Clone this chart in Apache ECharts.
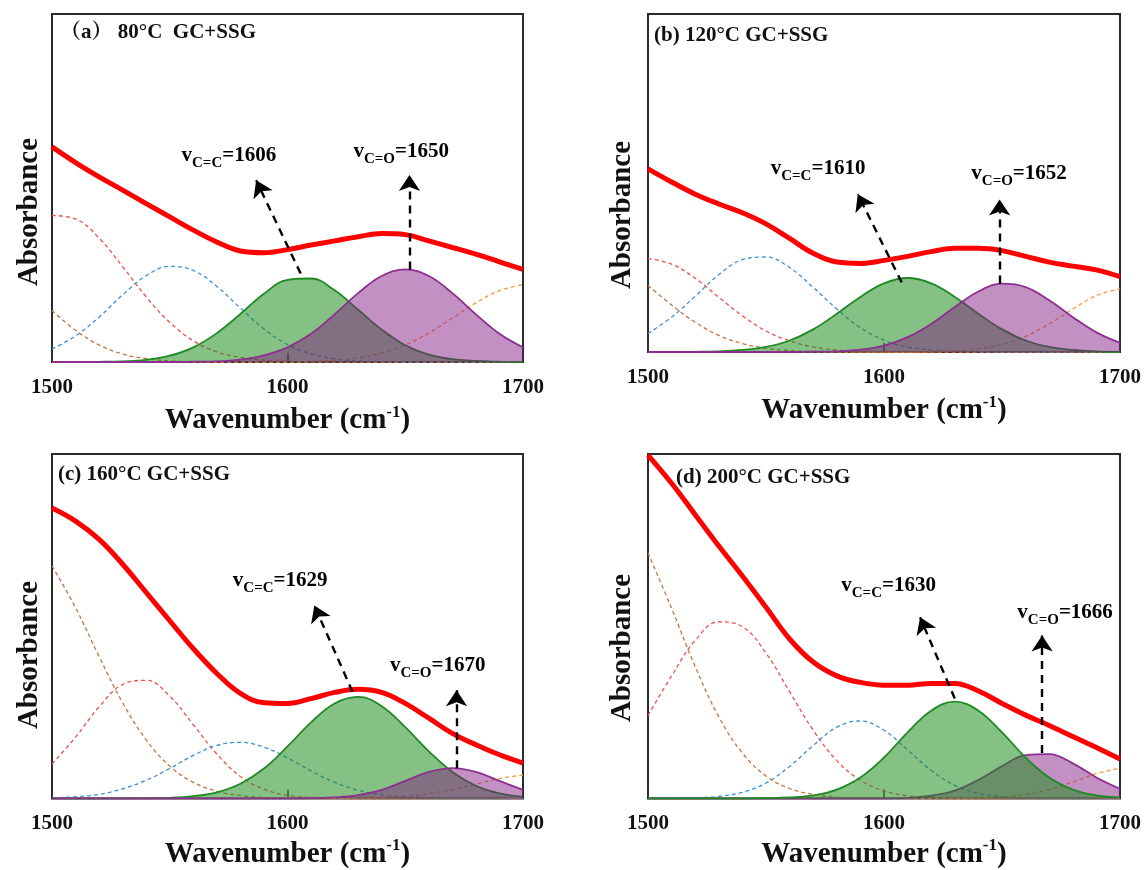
<!DOCTYPE html>
<html>
<head>
<meta charset="utf-8">
<script src="https://cdn.jsdelivr.net/npm/echarts@6/dist/echarts.min.js"></script>
<style>
html,body{margin:0;padding:0;background:#fff;}
#main{width:1145px;height:870px;}
</style>
</head>
<body>
<div id="main"></div>
<script>
// wavenumber grid, cm-1
const wn = [1500,1510,1520,1530,1540,1550,1560,1570,1580,1590,1600,1610,1620,1630,1640,1650,1660,1670,1680,1690,1700];
const xTicks = [1500, 1600, 1700];

// (a) 80°C  — absorbance in % of plot height
const aFit    = [61.8,57.3,53.2,49.4,45.5,41.7,37.9,34.5,31.9,31.4,32.3,33.6,34.8,36.0,36.9,36.6,34.8,32.9,31.0,28.8,26.6];
const aCC     = [0,0,0.05,0.2,0.6,1.8,4.2,8.3,13.8,19.6,23.6,24.0,20.6,15.0,9.3,4.8,2.1,0.8,0.3,0.1,0];
const aCO     = [0,0,0,0,0,0,0.1,0.2,0.7,1.9,4.2,8.1,13.7,19.8,24.7,26.6,24.7,19.8,13.7,8.1,4.2];
const aRed    = [42.1,41.1,35.6,27.4,18.7,11.4,6.1,2.9,1.3,0.5,0.2,0.1,0,0,0,0,0,0,0,0,0];
const aBlue   = [3.7,7.5,12.9,19.3,24.8,27.5,26.3,21.7,15.5,9.5,5.0,2.3,0.9,0.3,0.1,0,0,0,0,0,0];
const aBrown  = [14.8,9.1,4.9,2.3,1.0,0.3,0.1,0,0,0,0,0,0,0,0,0,0,0,0,0,0];
const aOrange = [0,0,0,0,0,0,0,0,0,0,0,0.2,0.5,1.2,2.6,4.9,8.3,12.6,17.0,20.5,22.2];

// (b) 120°C
const bFit    = [54.2,50.3,46.7,43.8,41.2,37.9,33.6,29.2,26.6,26.2,27.1,28.3,29.7,30.7,30.7,30.0,28.3,26.6,25.4,24.3,22.3];
const bCC     = [0,0,0.05,0.2,0.6,1.5,3.4,6.7,11.3,16.3,20.3,21.9,20.3,16.3,11.3,6.7,3.4,1.5,0.6,0.2,0.05];
const bCO     = [0,0,0,0,0,0,0,0.1,0.2,0.7,1.9,4.4,8.3,13.3,17.9,20.2,19.2,15.3,10.3,5.8,2.7];
const bRed    = [27.6,26.0,21.8,16.2,10.7,6.2,3.3,1.5,0.6,0.2,0.1,0,0,0,0,0,0,0,0,0,0];
const bBlue   = [5.5,10.3,16.5,22.9,27.3,28.1,25.0,19.1,12.7,7.2,3.5,1.5,0.6,0.2,0.1,0,0,0,0,0,0];
const bBrown  = [19.7,13.9,8.8,4.9,2.5,1.1,0.4,0.2,0.1,0,0,0,0,0,0,0,0,0,0,0,0];
const bOrange = [0,0,0,0,0,0,0,0,0,0,0,0,0.1,0.3,0.9,2.2,4.6,8.3,12.7,16.7,18.7];

// (c) 160°C
const cFit    = [84.3,80.5,75.2,68.0,59.8,51.6,43.5,36.3,30.5,27.8,27.6,29.0,30.8,31.7,30.8,27.6,23.3,18.9,15.6,12.7,10.3];
const cCC     = [0,0,0,0,0.05,0.2,0.7,1.8,4.3,8.7,15.1,22.1,27.6,29.5,26.8,20.7,13.7,7.7,3.7,1.5,0.5];
const cCO     = [0,0,0,0,0,0,0,0,0,0,0,0.1,0.3,1.0,2.5,5.1,7.7,8.8,7.7,5.1,2.5];
const cRed    = [10.0,17.8,26.6,33.1,34.3,29.7,21.4,12.9,6.4,2.7,0.9,0.3,0.1,0,0,0,0,0,0,0,0];
const cBlue   = [0.2,0.5,1.2,2.8,5.3,8.7,12.5,15.4,16.3,14.9,11.8,8.0,4.7,2.4,1.0,0.4,0.1,0,0,0,0];
const cBrown  = [67.5,55.4,41.2,27.8,17.0,9.4,4.7,2.1,0.9,0.3,0.1,0,0,0,0,0,0,0,0,0,0];
const cOrange = [0,0,0,0,0,0,0,0,0,0,0,0,0,0.1,0.2,0.6,1.4,2.6,4.2,5.8,6.8];

// (d) 200°C
const dFit    = [99.7,91.5,82.4,73.3,64.6,55.5,46.3,39.6,35.6,33.7,32.9,32.9,33.4,33.4,31.2,27.6,24.2,21.2,18.0,14.8,11.5];
const dCC     = [0,0,0,0,0,0.1,0.3,0.9,2.6,6.1,11.9,19.2,25.5,28.1,25.5,19.2,11.9,6.1,2.6,0.9,0.3];
const dCO     = [0,0,0,0,0,0,0,0,0,0,0,0.2,0.8,2.3,5.4,9.4,12.6,12.9,10.2,6.1,2.8];
const dRed    = [24.1,35.6,45.9,51.3,49.9,42.2,31.0,19.8,11.0,5.3,2.2,0.8,0.3,0.1,0,0,0,0,0,0,0];
const dBlue   = [0,0,0.2,0.6,1.8,4.5,9.3,15.4,20.7,22.5,19.8,14.1,8.2,3.8,1.5,0.5,0.1,0,0,0,0];
const dBrown  = [71.3,55.2,38.3,23.7,13.2,6.5,2.9,1.2,0.4,0.1,0,0,0,0,0,0,0,0,0,0,0];
const dOrange = [0,0,0,0,0,0,0,0,0,0,0,0,0,0,0.1,0.4,1.2,2.6,4.8,7.2,8.8];

// panel titles and peak notes
const titles = ['（a） 80°C  GC+SSG', '(b) 120°C GC+SSG', '(c) 160°C GC+SSG', '(d) 200°C GC+SSG'];
const noteSub = ['C=C', 'C=O'];
const noteVal = [['=1606','=1650'], ['=1610','=1652'], ['=1629','=1670'], ['=1630','=1666']];
const noteX = [[1555,1628], [1552,1637], [1576.8,1643.5], [1581.9,1656.5]];
const noteY = [[59.4,60.4], [54.2,52.7], [63.2,38.7], [61.7,54.0]];
const arrowTail = [[[1605.6,25.4],[1651.8,26.6]], [[1607.5,20.6],[1649,20.3]], [[1627.6,31],[1671.8,8.8]], [[1630,29],[1667,13.2]]];
const arrowHead = [[[1586.7,52.2],[1651.8,53.7]], [[1588.9,46.7],[1649,45.1]], [[1611.4,56],[1671.8,31.4]], [[1615.3,52.6],[1667,47.3]]];

const fits = [aFit, bFit, cFit, dFit];
const ccPeaks = [aCC, bCC, cCC, dCC];
const coPeaks = [aCO, bCO, cCO, dCO];
const dashed = [
  [aRed, aBlue, aBrown, aOrange],
  [bRed, bBlue, bBrown, bOrange],
  [cRed, cBlue, cBrown, cOrange],
  [dRed, dBlue, dBrown, dOrange]
];

const FONT = '"Times New Roman","Liberation Serif","Noto Serif CJK SC","Noto Sans CJK SC",serif';
const dashColors = ['#f0504a', '#3f8fd6', '#c4743e', '#ff9a3c'];
const grids = [
  {left: 52, top: 14, width: 471, height: 348},
  {left: 648, top: 14, width: 472, height: 338},
  {left: 52, top: 454, width: 471, height: 348},
  {left: 648, top: 454, width: 472, height: 348}
];
const absPos = [[30, 212], [623, 215], [30, 655], [623, 648]];
const titlePos = [[60, 33], [654, 36], [58, 475], [676, 478]];

function pts(arr) {
  return wn.map((x, k) => [x, arr[k]]);
}

const series = [];
for (let i = 0; i < 4; i++) {
  dashed[i].forEach((arr, j) => {
    series.push({
      type: 'line', xAxisIndex: i, yAxisIndex: i, data: pts(arr),
      smooth: 0.4, symbol: 'none', z: 2, silent: true,
      lineStyle: {color: dashColors[j], width: 1.3, type: [4, 3]}
    });
  });
  // d has the green band drawn above the purple one
  const greenOnTop = i === 3;
  series.push({
    type: 'line', xAxisIndex: i, yAxisIndex: i, data: pts(ccPeaks[i]),
    smooth: 0.4, symbol: 'none', z: greenOnTop ? 4 : 3,
    lineStyle: {color: '#1e8a22', width: 1.8},
    areaStyle: {color: 'rgb(30,140,30)', opacity: 0.54}
  });
  series.push({
    type: 'line', xAxisIndex: i, yAxisIndex: i, data: pts(coPeaks[i]),
    smooth: 0.4, symbol: 'none', z: greenOnTop ? 3 : 4,
    lineStyle: {color: '#8c2f90', width: 1.8},
    areaStyle: {color: 'rgb(128,20,128)', opacity: 0.47}
  });
  series.push({
    type: 'line', xAxisIndex: i, yAxisIndex: i, data: pts(fits[i]),
    smooth: 0.4, symbol: 'none', z: 6,
    lineStyle: {color: '#ff0000', width: 5}
  });
  series.push({
    type: 'lines', coordinateSystem: 'cartesian2d', xAxisIndex: i, yAxisIndex: i, z: 7,
    symbol: ['none', 'arrow'], symbolSize: [11, 16],
    lineStyle: {color: '#000', width: 2.4, type: [8, 6], opacity: 1},
    data: [0, 1].map(k => ({coords: [arrowTail[i][k], arrowHead[i][k]]}))
  });
  series.push({
    type: 'scatter', xAxisIndex: i, yAxisIndex: i, z: 8, symbolSize: 0,
    itemStyle: {color: '#000', opacity: 1},
    label: {
      show: true, position: 'right', distance: 0, color: '#000', opacity: 1,
      rich: {
        v: {fontSize: 21, fontWeight: 'bold', fontFamily: FONT, color: '#000', lineHeight: 30, verticalAlign: 'middle'},
        s: {fontSize: 15, fontWeight: 'bold', fontFamily: FONT, color: '#000', lineHeight: 30, verticalAlign: 'bottom'}
      }
    },
    data: [0, 1].map(k => ({
      value: [noteX[i][k], noteY[i][k]],
      label: {formatter: '{v|v}{s|' + noteSub[k] + '}{v|' + noteVal[i][k] + '}'}
    }))
  });
}

const xAxes = grids.map((g, i) => ({
  type: 'value', gridIndex: i, min: xTicks[0], max: xTicks[2], interval: 100,
  axisLine: {show: false},
  axisTick: {show: true, inside: true, length: 9, lineStyle: {color: '#333', width: 1.5}},
  splitLine: {show: false},
  axisLabel: {
    color: '#111', fontSize: 21, fontWeight: 'bold', fontFamily: FONT, margin: 15,
    showMinLabel: true, showMaxLabel: true,
    formatter: v => String(v)
  },
  name: '{a|Wavenumber (cm}{b|-1}{a|)}',
  nameLocation: 'middle',
  nameGap: i < 2 ? 42 : 39,
  nameTextStyle: {
    rich: {
      a: {fontSize: 29, fontWeight: 'bold', fontFamily: FONT, color: '#111', lineHeight: 34},
      b: {fontSize: 17, fontWeight: 'bold', fontFamily: FONT, color: '#111', lineHeight: 34, verticalAlign: 'top'}
    }
  }
}));

const yAxes = grids.map((g, i) => ({
  type: 'value', gridIndex: i, min: 0, max: 100, show: false, splitLine: {show: false}
}));

const graphics = [];
titles.forEach((t, i) => {
  graphics.push({
    type: 'text', x: titlePos[i][0], y: titlePos[i][1], z: 20,
    style: {text: t, font: 'bold 21px ' + FONT, fill: '#111', textAlign: 'left', verticalAlign: 'middle'}
  });
  graphics.push({
    type: 'text', x: absPos[i][0], y: absPos[i][1], rotation: Math.PI / 2, z: 20,
    style: {text: 'Absorbance', font: 'bold 29px ' + FONT, fill: '#111', textAlign: 'center', verticalAlign: 'middle'}
  });
});

const chart = echarts.init(document.getElementById('main'), null, {renderer: 'canvas'});
chart.setOption({
  backgroundColor: '#fff',
  animation: false,
  grid: grids.map(g => Object.assign({show: true, borderColor: '#2b2b2b', borderWidth: 2}, g)),
  xAxis: xAxes,
  yAxis: yAxes,
  series: series,
  graphic: graphics
});
</script>
</body>
</html>
